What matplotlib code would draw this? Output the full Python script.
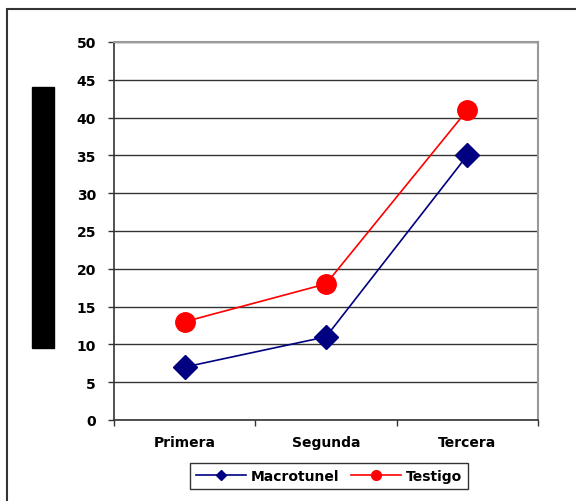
import matplotlib.pyplot as plt
from matplotlib.lines import Line2D
from matplotlib.patches import Rectangle

plt.rcParams['font.family'] = ['DejaVu Sans']

etapas = ['Primera', 'Segunda', 'Tercera']
macrotunel = [7, 11, 35]
testigo = [13, 18, 41]

W, H = 576, 502
fig = plt.figure(figsize=(W / 100, H / 100), dpi=100)
ax = fig.add_axes([114 / W, 1 - 421 / H, 424 / W, 378 / H])

x = range(len(etapas))
ax.plot(x, macrotunel, color='#000080', lw=1.2, marker='D', ms=12, zorder=3)
ax.plot(x, testigo, color='#ff0000', lw=1.2, marker='o', ms=14, zorder=3)

ax.set_xlim(-0.5, 2.5)
ax.set_ylim(0, 50)
ax.set_yticks(range(0, 51, 5))
ax.yaxis.grid(True, color='#333333', lw=1.0)
ax.set_axisbelow(True)

# category ticks sit between the groups, labels at the centres
ax.set_xticks([-0.5, 0.5, 1.5, 2.5])
ax.set_xticklabels([])
ax.set_xticks(list(x), minor=True)
ax.set_xticklabels(etapas, minor=True)
ax.tick_params(axis='x', which='minor', length=0, pad=11)
ax.tick_params(axis='both', which='major', direction='out', length=4,
               width=1, color='#333333')
ax.tick_params(axis='y', pad=9)
for lab in ax.get_yticklabels() + ax.get_xticklabels(minor=True):
    lab.set_fontsize(10)
    lab.set_fontweight('bold')

for side in ['top', 'right']:
    ax.spines[side].set_color('#999999')
    ax.spines[side].set_linewidth(1.5)
for side in ['left', 'bottom']:
    ax.spines[side].set_color('#333333')
    ax.spines[side].set_linewidth(1.2)

handles = [Line2D([], [], color='#000080', lw=1.2, marker='D', ms=5),
           Line2D([], [], color='#ff0000', lw=1.2, marker='o', ms=7)]
leg = fig.legend(handles, ['Macrotunel', 'Testigo'], loc='center',
                 bbox_to_anchor=(329 / W, 1 - 477 / H), ncol=2,
                 frameon=True, fancybox=False, edgecolor='black',
                 handlelength=3.6, columnspacing=0.9, handletextpad=0.3,
                 borderpad=0.45, prop={'size': 10, 'weight': 'bold'})
leg.get_frame().set_linewidth(1.0)

# black block on the left and the outer frame
fig.add_artist(Rectangle((32 / W, 1 - 349 / H), 22 / W, 261 / H,
                         transform=fig.transFigure, color='black'))
fig.add_artist(Rectangle((7 / W, -0.1), 1.2, 1.1 - 10 / H,
                         transform=fig.transFigure, fill=False,
                         edgecolor='#333333', lw=1.5))

fig.savefig('out.png', dpi=100)
